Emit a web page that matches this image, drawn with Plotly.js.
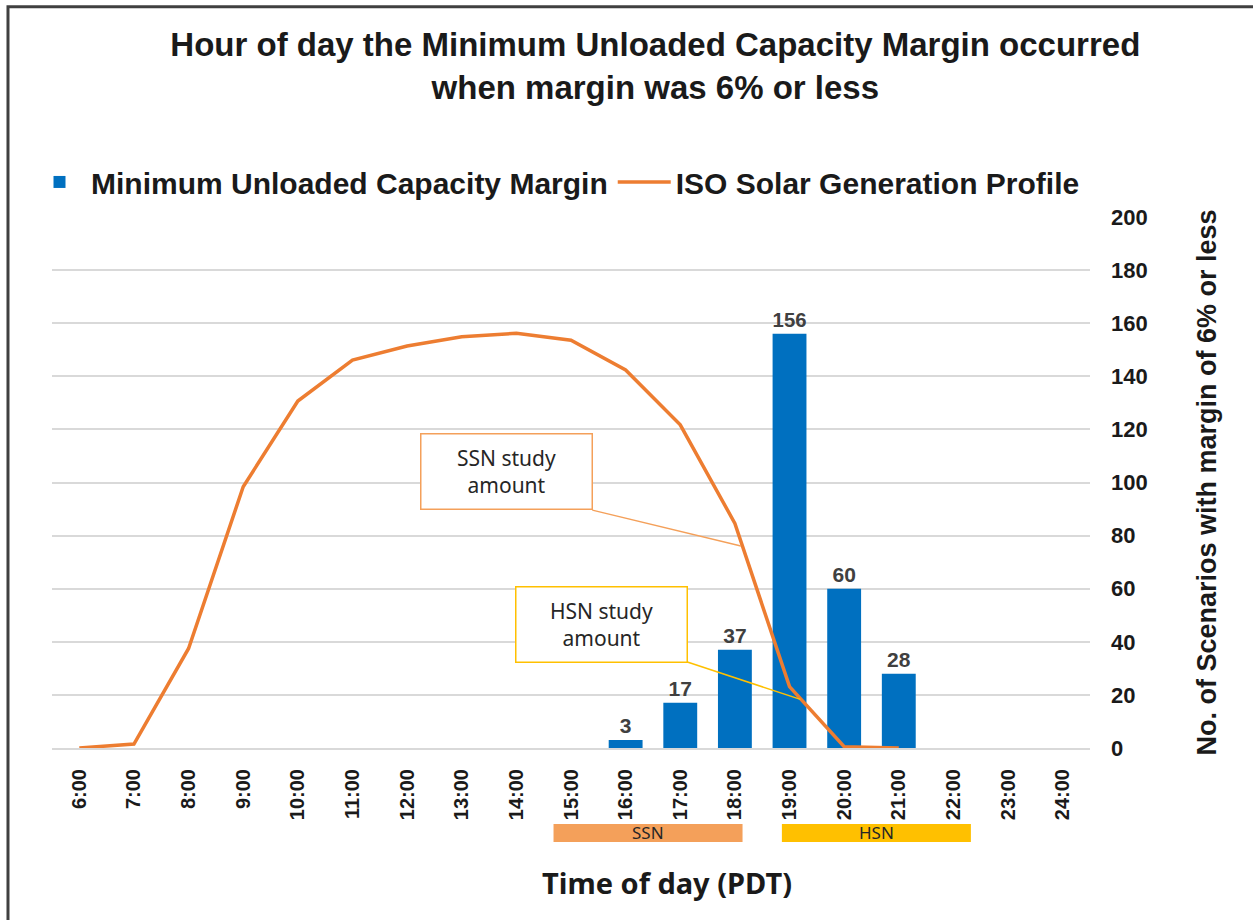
<!DOCTYPE html>
<html>
<head>
<meta charset="utf-8">
<script src="https://cdn.plot.ly/plotly-3.0.1.min.js"></script>
<style>
  html, body { margin: 0; padding: 0; background: #ffffff; }
  #chart { width: 1253px; height: 920px; }
</style>
</head>
<body>
<div id="chart"></div>
<script>
// ---- Data ----
const hours = ["6:00","7:00","8:00","9:00","10:00","11:00","12:00","13:00","14:00","15:00",
               "16:00","17:00","18:00","19:00","20:00","21:00","22:00","23:00","24:00"];
const marginHours = ["16:00","17:00","18:00","19:00","20:00","21:00"];
const marginCounts = [3, 17, 37, 156, 60, 28];
const solarHours = ["6:00","7:00","8:00","9:00","10:00","11:00","12:00","13:00","14:00","15:00",
                    "16:00","17:00","18:00","19:00","20:00","21:00"];
const solarProfile = [0, 1.5, 37.5, 98.4, 130.7, 146.1, 151.4, 154.9, 156.2, 153.6,
                      142.4, 121.7, 84.6, 23.1, 0.5, 0];
const yTicks = [0, 20, 40, 60, 80, 100, 120, 140, 160, 180, 200];

const FONT = "Liberation Sans, Arial, sans-serif";
const CAL = "Noto Sans, Open Sans, sans-serif";

const traces = [
  {
    type: "bar",
    name: "Minimum Unloaded Capacity Margin",
    x: marginHours,
    y: marginCounts,
    marker: { color: "#0070C0" },
    text: marginCounts.map(String),
    textposition: "outside",
    cliponaxis: false,
    textfont: { family: FONT, size: 21, color: "#404040", weight: "bold" },
    width: 0.62
  },
  {
    type: "scatter",
    mode: "lines",
    name: "ISO Solar Generation Profile",
    x: solarHours,
    y: solarProfile,
    line: { color: "#ED7D31", width: 3.5 }
  }
];

const layout = {
  width: 1253,
  height: 920,
  margin: { l: 52, r: 163, t: 217, b: 172, autoexpand: false },
  paper_bgcolor: "#ffffff",
  plot_bgcolor: "#ffffff",
  font: { family: FONT, color: "#000000" },
  title: {
    text: "Hour of day the Minimum Unloaded Capacity Margin occurred<br>when margin was 6% or less",
    font: { family: FONT, size: 33, color: "#1a1a1a", weight: "bold" },
    xref: "container", x: 0.523, xanchor: "center",
    yref: "container", y: 1 - 56/920, yanchor: "top"
  },
  showlegend: true,
  legend: {
    orientation: "h",
    x: -24/1038, xanchor: "left",
    y: 1.066, yanchor: "middle",
    itemwidth: 53,
    font: { family: FONT, size: 30, color: "#1a1a1a", weight: "bold" },
    bgcolor: "rgba(0,0,0,0)"
  },
  xaxis: {
    type: "category",
    categoryorder: "array",
    categoryarray: hours,
    tickvals: hours,
    ticktext: hours,
    range: [-0.5, 18.5],
    tickangle: -90,
    tickfont: { family: FONT, size: 20, color: "#1a1a1a", weight: "bold" },
    showgrid: false,
    showline: true,
    linecolor: "#d9d9d9",
    linewidth: 2,
    ticks: "",
    ticklabelstandoff: 11
  },
  yaxis: {
    side: "right",
    range: [0, 200],
    tickvals: yTicks,
    ticktext: yTicks.map(String),
    tickfont: { family: FONT, size: 22, color: "#1a1a1a", weight: "bold" },
    showgrid: true,
    gridcolor: "#d9d9d9",
    gridwidth: 2,
    zeroline: false,
    showline: false,
    ticks: "",
    ticklabelstandoff: 20,
    title: {
      text: "No. of Scenarios with margin of 6% or less",
      font: { family: FONT, size: 27, color: "#1a1a1a", weight: "bold" },
      standoff: 50
    }
  },
  bargap: 0.38,
  shapes: [
    // SSN / HSN window bars under the axis
    { type: "rect", xref: "x", yref: "paper", x0: 8.68, x1: 12.14, y0: -0.177, y1: -0.143,
      fillcolor: "#F4A05A", line: { width: 0 }, layer: "above" },
    { type: "rect", xref: "x", yref: "paper", x0: 12.86, x1: 16.32, y0: -0.177, y1: -0.143,
      fillcolor: "#FFC000", line: { width: 0 }, layer: "above" },
    // callout leader lines
    { type: "line", xref: "x", yref: "y", x0: 9.39, y0: 89.6, x1: 12.11, y1: 76.1,
      line: { color: "#F4A05A", width: 1.5 } },
    { type: "line", xref: "x", yref: "y", x0: 11.13, y0: 32.4, x1: 13.2, y1: 18.3,
      line: { color: "#FFC000", width: 1.5 } },
    // outer frame
    { type: "rect", xref: "paper", yref: "paper", x0: -0.0424, x1: 1.3, y0: 1.396, y1: -0.5,
      line: { color: "#404040", width: 3 }, fillcolor: "rgba(0,0,0,0)" }
  ],
  annotations: [
    { xref: "x", yref: "y", x: 7.825, y: 104, text: "SSN study<br>amount", showarrow: false,
      width: 168, height: 72, bordercolor: "#F4A05A", borderwidth: 1.5, bgcolor: "#ffffff",
      font: { family: CAL, size: 21, color: "#262626" } },
    { xref: "x", yref: "y", x: 9.565, y: 46.7, text: "HSN study<br>amount", showarrow: false,
      width: 168, height: 72, bordercolor: "#FFC000", borderwidth: 1.5, bgcolor: "#ffffff",
      font: { family: CAL, size: 21, color: "#262626" } },
    { xref: "x", yref: "paper", x: 10.41, y: -0.16, yanchor: "middle", text: "SSN", showarrow: false,
      font: { family: CAL, size: 17, color: "#262626" } },
    { xref: "x", yref: "paper", x: 14.59, y: -0.16, yanchor: "middle", text: "HSN", showarrow: false,
      font: { family: CAL, size: 17, color: "#262626" } },
    // x-axis title (centred under the whole chart as in the original)
    { xref: "paper", yref: "paper", x: (667 - 52)/1038, y: -(882 - 748)/531, xanchor: "center", yanchor: "middle",
      text: "Time of day (PDT)", showarrow: false,
      font: { family: CAL, size: 29, color: "#1a1a1a", weight: "bold" } }
  ]
};

Plotly.newPlot("chart", traces, layout, { displayModeBar: false, responsive: false });
</script>
</body>
</html>
